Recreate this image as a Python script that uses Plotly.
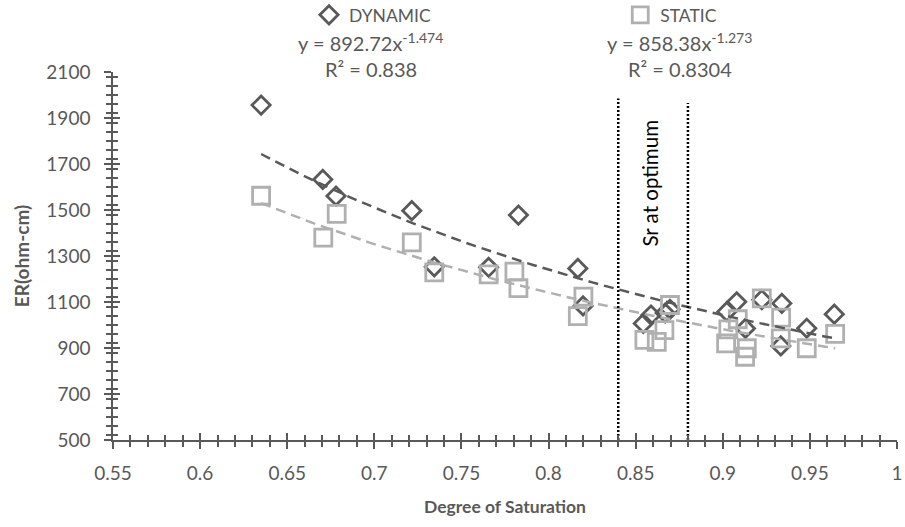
import numpy as np
import plotly.graph_objects as go

# ---------------- data ----------------
dyn_sr = [0.635, 0.6704, 0.678, 0.7215, 0.7344, 0.7656, 0.7827, 0.8168, 0.8198,
          0.8544, 0.8588, 0.8669, 0.8697, 0.9023, 0.908, 0.913, 0.9224, 0.9339,
          0.9333, 0.9482, 0.964]
dyn_er = [1956, 1633, 1561, 1497, 1253, 1251, 1478, 1246, 1083,
          1007, 1043, 1052, 1068, 1058, 1101, 985, 1110, 1094,
          909, 986, 1047]

sta_sr = [0.635, 0.6707, 0.6784, 0.7215, 0.7344, 0.7656, 0.7804, 0.7827, 0.82,
          0.8168, 0.855, 0.8621, 0.8665, 0.8697, 0.9019, 0.9032, 0.9086, 0.9128,
          0.9138, 0.9224, 0.9335, 0.9333, 0.9482, 0.9645]
sta_er = [1562, 1380, 1483, 1359, 1229, 1220, 1232, 1160, 1123,
          1039, 935, 927, 978, 1087, 920, 981, 1025, 862,
          899, 1116, 1032, 942, 899, 961]

dyn_coef, dyn_exp, dyn_r2 = 892.72, -1.474, "0.838"
sta_coef, sta_exp, sta_r2 = 858.38, -1.273, "0.8304"

optimum_sr = [0.84, 0.88]
optimum_top = [1985, 1965]
optimum_label = "Sr at optimum"

x_range = [0.55, 1.0]
y_range = [500, 2100]

DARK = "#595959"
LIGHT = "#B0B0B0"
FONT = "Lato"

fig = go.Figure()

fig.add_trace(go.Scatter(
    x=dyn_sr, y=dyn_er, mode="markers", name="DYNAMIC", legend="legend",
    marker=dict(symbol="diamond-open", size=14, color=DARK, line=dict(width=2.8, color=DARK))))
fig.add_trace(go.Scatter(
    x=sta_sr, y=sta_er, mode="markers", name="STATIC", legend="legend2",
    marker=dict(symbol="square-open", size=17, color=LIGHT, line=dict(width=2.8, color=LIGHT))))

# power trend lines over data range
dx = np.linspace(min(dyn_sr), max(dyn_sr), 60)
sx = np.linspace(min(sta_sr), max(sta_sr), 60)
fig.add_trace(go.Scatter(x=dx, y=dyn_coef * dx ** dyn_exp, mode="lines", showlegend=False,
                         line=dict(color=DARK, width=2.5, dash="10px,6px"), hoverinfo="skip"))
fig.add_trace(go.Scatter(x=sx, y=sta_coef * sx ** sta_exp, mode="lines", showlegend=False,
                         line=dict(color=LIGHT, width=2.5, dash="10px,6px"), hoverinfo="skip"))

# optimum range dotted lines
for xv, top in zip(optimum_sr, optimum_top):
    fig.add_trace(go.Scatter(x=[xv, xv], y=[y_range[0], top], mode="lines", showlegend=False,
                             line=dict(color="black", width=2.5, dash="2px,2px"), hoverinfo="skip"))

# dummy trace for overlay axes (crossing ticks)
fig.add_trace(go.Scatter(x=[None], y=[None], xaxis="x2", yaxis="y2", showlegend=False, hoverinfo="skip"))

tickfont = dict(family=FONT, size=19, color=DARK)
axis_common = dict(showgrid=False, zeroline=False, tickcolor=DARK, tickwidth=1.5)

fig.update_layout(
    width=905, height=527,
    margin=dict(l=113, r=8, t=72, b=87, autoexpand=False),
    paper_bgcolor="white", plot_bgcolor="white",
    font=dict(family=FONT, color=DARK),
    xaxis=dict(range=x_range, tick0=0.55, dtick=0.05, ticks="outside", ticklen=7,
               showline=True, linecolor=DARK, linewidth=1.5, tickfont=tickfont,
               ticklabelstandoff=8,
               minor=dict(dtick=0.01, ticks="outside", ticklen=5, tickcolor=DARK, tickwidth=1.5),
               title=dict(text="<b>Degree of Saturation</b>", font=dict(family=FONT, size=17.5, color=DARK),
                          standoff=18),
               **axis_common),
    yaxis=dict(range=y_range, tick0=500, dtick=200, ticks="outside", ticklen=7,
               showline=True, linecolor=DARK, linewidth=1.5, tickfont=tickfont,
               ticklabelstandoff=10,
               minor=dict(dtick=40, ticks="outside", ticklen=5, tickcolor=DARK, tickwidth=1.5),
               title=dict(text="<b>ER(ohm-cm)</b>", font=dict(family=FONT, size=19, color=DARK),
                          standoff=12),
               **axis_common),
    xaxis2=dict(range=x_range, overlaying="x", anchor="y2", tick0=0.55, dtick=0.05,
                ticks="inside", ticklen=7, showticklabels=False, showline=False,
                minor=dict(dtick=0.01, ticks="inside", ticklen=5, tickcolor=DARK, tickwidth=1.5),
                **axis_common),
    yaxis2=dict(range=y_range, overlaying="y", anchor="x2", tick0=500, dtick=200,
                ticks="inside", ticklen=7, showticklabels=False, showline=False,
                minor=dict(dtick=40, ticks="inside", ticklen=5, tickcolor=DARK, tickwidth=1.5),
                **axis_common),
    legend=dict(x=0.250, y=1.155, xanchor="left", yanchor="middle", orientation="h",
                font=dict(family=FONT, size=17.5, color=DARK), bgcolor="rgba(0,0,0,0)"),
    legend2=dict(x=0.647, y=1.155, xanchor="left", yanchor="middle", orientation="h",
                 font=dict(family=FONT, size=17.5, color=DARK), bgcolor="rgba(0,0,0,0)"),
)

ann_font = dict(family=FONT, size=20, color=DARK)
for xp, coef, ex, r2 in [(0.329, dyn_coef, dyn_exp, dyn_r2), (0.723, sta_coef, sta_exp, sta_r2)]:
    fig.add_annotation(x=xp, y=1.0815, xref="paper", yref="paper", showarrow=False,
                       text=f"y = {coef}x<sup>{ex}</sup>", font=ann_font, xanchor="center", yanchor="middle")
    fig.add_annotation(x=xp, y=1.007, xref="paper", yref="paper", showarrow=False,
                       text=f"R² = {r2}", font=ann_font, xanchor="center", yanchor="middle")

fig.add_annotation(x=0.8585, y=1617, xref="x", yref="y", showarrow=False, text=optimum_label,
                   textangle=-90, font=dict(family=FONT, size=20.5, color="black"))

fig.write_html("out.html")
